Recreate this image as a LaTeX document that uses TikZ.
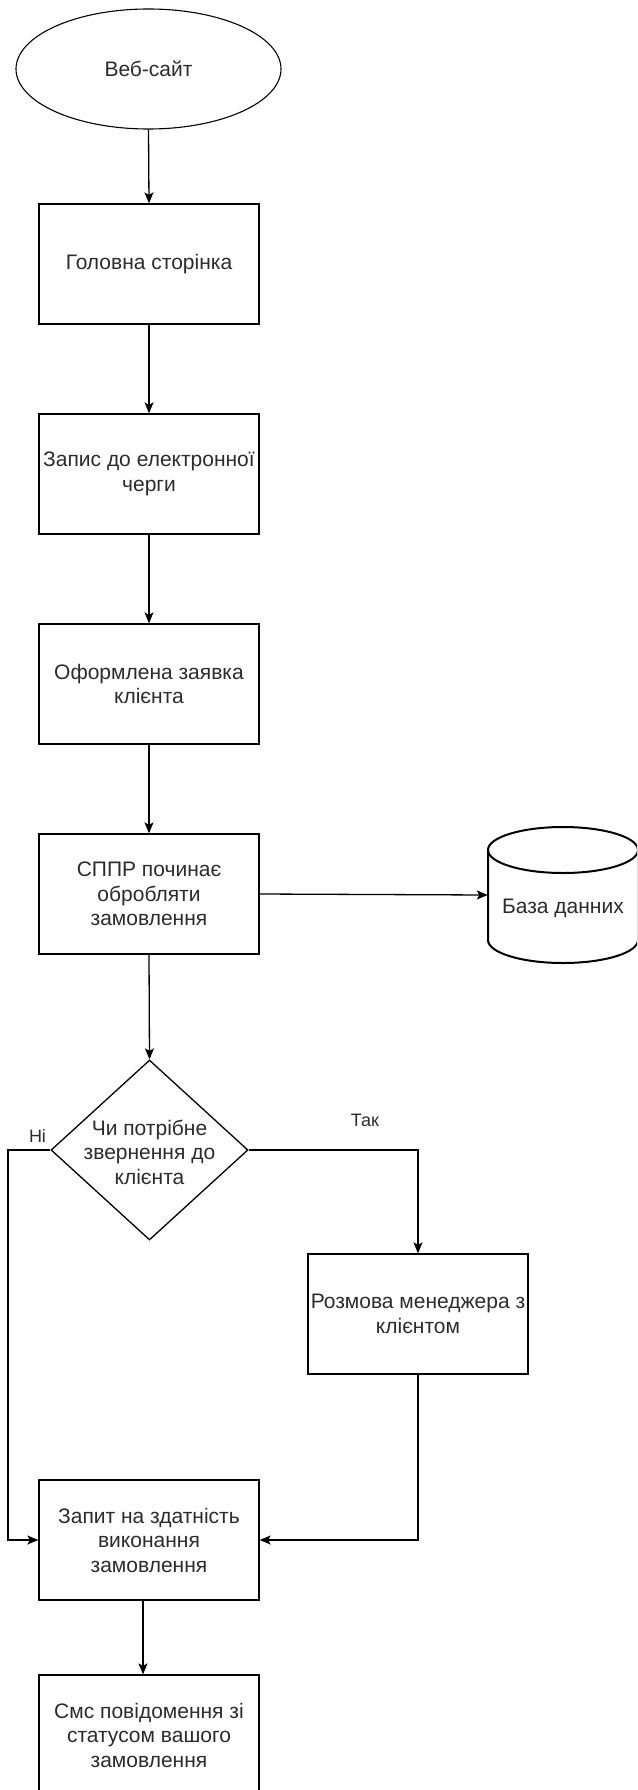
\documentclass[tikz,border=0pt]{standalone}
\usepackage{fontspec}
\setmainfont{Liberation Sans}
\usetikzlibrary{shapes.geometric,arrows.meta}
\definecolor{txt}{HTML}{2B2B2B}
\tikzset{
  base/.style={font={\fontsize{21}{24.5}\selectfont}, text=txt, align=center, inner sep=0pt},
  stepbox/.style={base, draw, line width=1.3pt, minimum width=220pt, minimum height=120pt},
  conn/.style={line width=1.3pt, -{Stealth[length=11pt,width=9pt,inset=2.5pt]}},
  lbl/.style={font={\fontsize{18}{21}\selectfont}, text=txt, inner sep=0pt},
}
\begin{document}
\begin{tikzpicture}[x=1pt,y=-1pt]
\useasboundingbox (0,0) rectangle (637,1790);
\clip (0,0) rectangle (637,1790);
\node[base, draw, ellipse, line width=1.1pt, minimum width=265pt, minimum height=120pt] (web) at (148.5,69) {Веб-сайт};
\node[stepbox] (b1) at (149,264) {Головна сторінка};
\node[stepbox] (b2) at (149,474) {Запис до електронної\\черги};
\node[stepbox] (b3) at (149,684) {Оформлена заявка\\клієнта};
\node[stepbox] (b4) at (149,894) {СППР починає\\обробляти\\замовлення};
% database cylinder
\node[minimum width=150pt, minimum height=136pt, inner sep=0pt] (db) at (563,895) {};
\draw[line width=2pt, fill=white] (488,850) -- (488,940) arc[start angle=180, end angle=0, x radius=75, y radius=23] -- (638,850);
\draw[line width=2pt] (563,850) ellipse[x radius=75, y radius=23];
\node[base] (dbt) at (563,908) {База данних};
% decision
\node[draw, diamond, line width=1.3pt, minimum width=197pt, minimum height=180pt, inner sep=0pt] (dia) at (149.5,1150) {};
\node[base] (diat) at (149.5,1152) {Чи потрібне\\звернення до\\клієнта};
\node[stepbox] (b5) at (418,1314) {Розмова менеджера з\\клієнтом};
\node[stepbox] (b6) at (149,1540) {Запит на здатність\\виконання\\замовлення};
\node[stepbox] (b7) at (149,1735) {Смс повідомення зі\\статусом вашого\\замовлення};
\coordinate (nl) at (8,1150);
\coordinate (nb) at (8,1540);
\coordinate (yr) at (418,1150);
\coordinate (yb) at (418,1540);
\node[lbl] (no) at (37.5,1136) {Ні};
\node[lbl] (yes) at (365,1120) {Так};
% connectors
\draw[conn] (web.south) -- (b1.north);
\draw[conn] (b1.south) -- (b2.north);
\draw[conn] (b2.south) -- (b3.north);
\draw[conn] (b3.south) -- (b4.north);
\draw[conn] (b4.east) -- (db.west);
\draw[conn] (b4.south) -- (dia.north);
\draw[conn] (dia.west) -- (nl) -- (nb) -- (b6.west);
\draw[conn] (dia.east) -- (yr) -- (b5.north);
\draw[conn] (b5.south) -- (yb) -- (b6.east);
\draw[conn] ([xshift=-6pt]b6.south) -- ([xshift=-6pt]b7.north);
\end{tikzpicture}
\end{document}
